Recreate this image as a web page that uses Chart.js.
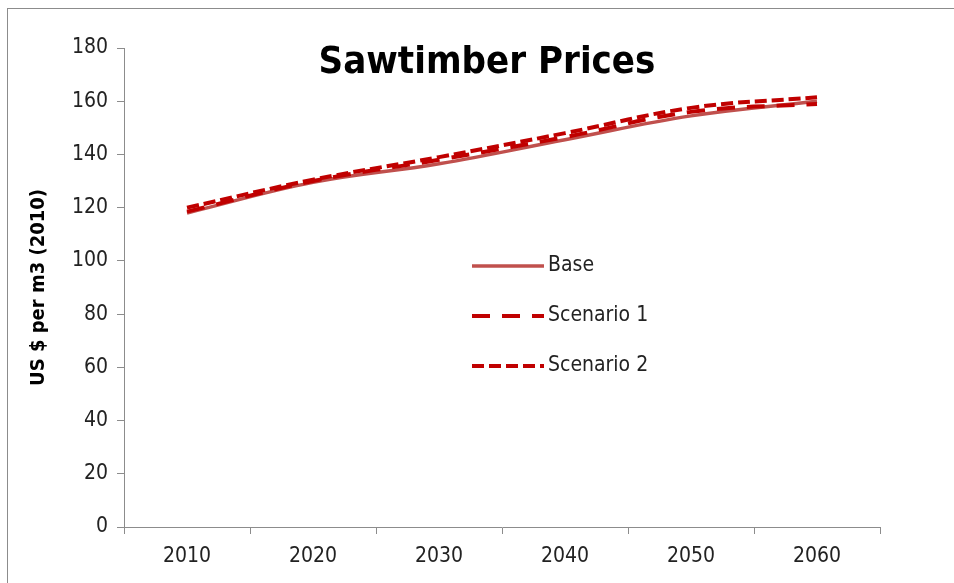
<!DOCTYPE html>
<html>
<head>
<meta charset="utf-8">
<script src="https://cdn.jsdelivr.net/npm/chart.js@4.4.1/dist/chart.umd.min.js"></script>
<style>
  html, body { margin: 0; padding: 0; background: #fff; }
  #frame { position: absolute; left: 7px; top: 8px; width: 960px; height: 590px;
           border-left: 1px solid #8c8c8c; border-top: 1px solid #8c8c8c; }
  #wrap { position: absolute; left: 0; top: 0; width: 954px; height: 583px; }
</style>
</head>
<body>
<div id="frame"></div>
<div id="wrap"><canvas id="chart1"></canvas></div>
<script>
// chart data
var years = ['2010', '2020', '2030', '2040', '2050', '2060'];
var base = [118, 129.5, 136.5, 145.5, 154.5, 160];
var scenario1 = [118.5, 130, 138, 146.5, 156, 159];
var scenario2 = [120, 130.5, 139, 148, 157.5, 161.5];
var seriesNames = ['Base', 'Scenario 1', 'Scenario 2'];

var FONT = '"Liberation Sans Narrow", "DejaVu Sans Condensed", "Liberation Sans", sans-serif';

// title + legend drawn inside the plot area, like the excel original
var insidePlugin = {
  id: 'inside',
  afterDraw: function (chart) {
    var c = chart.ctx, a = chart.chartArea;
    c.save();
    c.fillStyle = '#000';
    c.font = 'bold 38px ' + FONT;
    c.textAlign = 'center';
    c.textBaseline = 'middle';
    c.fillText('Sawtimber Prices', a.left + 363, a.top + 15);

    c.font = '21px ' + FONT;
    c.textAlign = 'left';
    chart.data.datasets.forEach(function (ds, k) {
      var y = a.top + 218 + k * 50;
      c.beginPath();
      c.strokeStyle = ds.borderColor;
      c.lineWidth = ds.borderWidth;
      c.setLineDash(ds.borderDash || []);
      c.moveTo(a.left + 348, y);
      c.lineTo(a.left + 420, y);
      c.stroke();
      c.setLineDash([]);
      c.fillStyle = '#222';
      c.fillText(ds.label, a.left + 424, y);
    });
    c.restore();
  }
};

new Chart(document.getElementById('chart1'), {
  type: 'line',
  data: {
    labels: years,
    datasets: [
      { label: seriesNames[0], data: base, borderColor: '#c0504d', borderWidth: 3.5, tension: 0.4, pointRadius: 0, order: 2 },
      { label: seriesNames[1], data: scenario1, borderColor: '#c00000', borderWidth: 4, borderDash: [18, 12], tension: 0.4, pointRadius: 0, order: 1 },
      { label: seriesNames[2], data: scenario2, borderColor: '#c00000', borderWidth: 4, borderDash: [12, 5], tension: 0.4, pointRadius: 0, order: 0 }
    ]
  },
  options: {
    responsive: true,
    maintainAspectRatio: false,
    animation: false,
    layout: { padding: { left: 0, right: 74, top: 48, bottom: 0 } },
    plugins: { legend: { display: false }, title: { display: false }, tooltip: { enabled: false } },
    scales: {
      x: {
        type: 'category',
        offset: true,
        grid: { offset: true, drawOnChartArea: false, drawTicks: true, tickLength: 7, tickColor: '#8c8c8c' },
        border: { display: true, color: '#8c8c8c', width: 1 },
        ticks: { color: '#222', font: { family: FONT, size: 21 }, padding: 10, maxRotation: 0 },
        afterFit: function (s) { s.height = 56; }
      },
      y: {
        min: 0, max: 180,
        grid: { drawOnChartArea: false, drawTicks: true, tickLength: 7, tickColor: '#8c8c8c' },
        border: { display: true, color: '#8c8c8c', width: 1 },
        ticks: { stepSize: 20, color: '#222', font: { family: FONT, size: 21 }, padding: 9 },
        title: { display: true, text: 'US $ per m3 (2010)', color: '#000', font: { family: FONT, size: 20, weight: 'bold' }, padding: { top: 27, bottom: 0 } },
        afterFit: function (s) { s.width = 124; }
      }
    }
  },
  plugins: [insidePlugin]
});
</script>
</body>
</html>
